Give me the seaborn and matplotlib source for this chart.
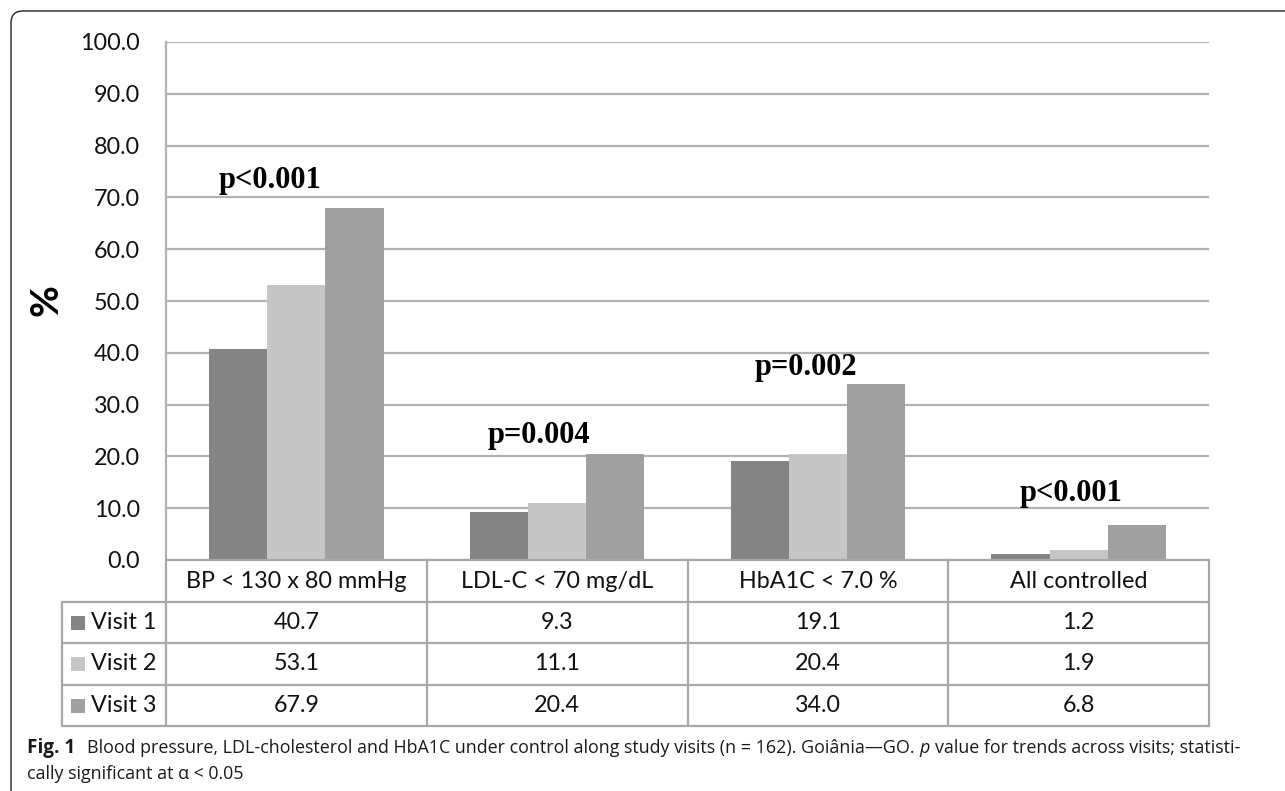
import numpy as np
import pandas as pd
import matplotlib
matplotlib.use("Agg")
import matplotlib.pyplot as plt
import matplotlib.transforms as mtrans
from matplotlib.patches import FancyBboxPatch, Rectangle
from matplotlib.lines import Line2D
import seaborn as sns

# ---------------- data ----------------
categories = ["BP < 130 x 80 mmHg", "LDL-C < 70 mg/dL", "HbA1C < 7.0 %", "All controlled"]
visits = ["Visit 1", "Visit 2", "Visit 3"]
visit1 = [40.7, 9.3, 19.1, 1.2]
visit2 = [53.1, 11.1, 20.4, 1.9]
visit3 = [67.9, 20.4, 34.0, 6.8]
p_labels = ["p<0.001", "p=0.004", "p=0.002", "p<0.001"]
p_label_y = [73.2, 24.0, 37.2, 12.9]
p_label_dx = [-0.10, -0.07, -0.045, -0.03]
y_ticks = [0, 10, 20, 30, 40, 50, 60, 70, 80, 90, 100]
y_label = "%"
caption_bold = "Fig. 1"
caption_1a = "Blood pressure, LDL-cholesterol and HbA1C under control along study visits (n = 162). Goiânia—GO."
caption_1b = "p"
caption_1c = "value for trends across visits; statisti-"
caption_2 = "cally significant at α < 0.05"

colors = ["#848484", "#c6c6c6", "#a0a0a0"]
grid_col = "#b2b2b2"
table_col = "#a8a8a8"

series = [visit1, visit2, visit3]
df = pd.DataFrame({
    "category": categories * 3,
    "visit": sum([[v] * len(categories) for v in visits], []),
    "value": visit1 + visit2 + visit3,
})

sns.set_style("white")
plt.rcParams["font.family"] = ["Lato", "DejaVu Sans"]

W, H = 1285, 791
fig = plt.figure(figsize=(W / 100, H / 100), dpi=100)
L, R, T, B = 166, 1209, 42, 560
ax = fig.add_axes([L / W, 1 - B / H, (R - L) / W, (B - T) / H])

sns.barplot(data=df, x="category", y="value", hue="visit", palette=colors,
            width=0.67, gap=0, saturation=1, ax=ax, legend=False,
            order=categories, hue_order=visits, linewidth=0, edgecolor="none")

ax.set_xlim(-0.5, 3.5)
ax.set_ylim(0, 100)
ax.set_yticks(y_ticks)
ax.set_yticklabels([f"{v:.1f}" for v in y_ticks])
ax.tick_params(axis="y", length=0, pad=18.5, labelsize=16.8, labelcolor="#111111")
ax.set_xticks([])
ax.set_xlabel("")
ax.set_ylabel("")
ax.yaxis.grid(True, color=grid_col, lw=1.6)
ax.set_axisbelow(True)
for s in ["top", "right", "bottom"]:
    ax.spines[s].set_visible(False)
ax.spines["left"].set_color(grid_col)
ax.spines["left"].set_linewidth(1.6)

# p-value annotations
for i, (lab, yv, dx) in enumerate(zip(p_labels, p_label_y, p_label_dx)):
    ax.text(i + dx, yv, lab, ha="center", va="center", fontsize=22,
            fontweight="bold", family="Liberation Serif", color="black")

# y label
fig.text(46 / W, 1 - 300 / H, y_label, rotation=90, ha="center", va="center",
         fontsize=28, fontweight="bold", color="black")

# ---------------- data table ----------------
def fy(px):
    return 1 - px / H

def fx(px):
    return px / W

trans = mtrans.blended_transform_factory(ax.transData, fig.transFigure)
rows_y = [560, 602, 643, 685, 726]
col_edges = [-0.5, 0.5, 1.5, 2.5, 3.5]
lw_tab = 1.6
for yv in rows_y:
    fig.add_artist(Line2D([-0.5, 3.5], [fy(yv), fy(yv)], transform=trans,
                          color=table_col, lw=lw_tab))
for xv in col_edges:
    fig.add_artist(Line2D([xv, xv], [fy(560), fy(726)], transform=trans,
                          color=table_col, lw=lw_tab))
# row-label column
for yv in rows_y[1:]:
    fig.add_artist(Line2D([fx(62), fx(166)], [fy(yv), fy(yv)],
                          transform=fig.transFigure, color=table_col, lw=lw_tab))
fig.add_artist(Line2D([fx(62), fx(62)], [fy(602), fy(726)],
                      transform=fig.transFigure, color=table_col, lw=lw_tab))

hdr_c = (560 + 602) / 2
for i, c in enumerate(categories):
    t = fig.text(0, fy(hdr_c), c, transform=trans, ha="center", va="center",
                 fontsize=16.8, color="#111111")
    t.set_x(i)

for r, (vname, vals, col) in enumerate(zip(visits, series, colors)):
    yc = (rows_y[r + 1] + rows_y[r + 2]) / 2
    fig.add_artist(Rectangle((fx(71), fy(yc + 7)), 14 / W, 14 / H,
                             transform=fig.transFigure, facecolor=col,
                             edgecolor="none"))
    fig.text(fx(91), fy(yc), vname, ha="left", va="center", fontsize=16.8,
             color="#111111")
    for i, v in enumerate(vals):
        t = fig.text(0, fy(yc), f"{v:.1f}", transform=trans, ha="center",
                     va="center", fontsize=16.8, color="#111111")
        t.set_x(i)

# ---------------- caption ----------------
cap_font = ["Open Sans", "DejaVu Sans"]
cap_size = 12.9
fig.canvas.draw()
renderer = fig.canvas.get_renderer()

def put(x, y, s, size=cap_size, **kw):
    t = fig.text(fx(x), fy(y), s, ha="left", va="center", fontsize=size,
                 family=cap_font, color="#1a1a1a", **kw)
    bb = t.get_window_extent(renderer)
    return x + bb.width

x = 27
x = put(x, 748, caption_bold, size=13.6, fontweight="bold")
x += 12
x = put(x, 748, caption_1a)
x += 5
x = put(x, 748, caption_1b, style="italic")
x += 5
put(x, 748, caption_1c)
put(27, 774, caption_2)

# rounded frame (top-left corner)
frame = FancyBboxPatch((0.11, -1.0), 20, 7.80 + 1.0,
                       boxstyle="round,pad=0,rounding_size=0.12",
                       transform=fig.dpi_scale_trans, fill=False,
                       edgecolor="#222222", lw=1.0)
fig.add_artist(frame)

fig.savefig("out.png", dpi=100)
